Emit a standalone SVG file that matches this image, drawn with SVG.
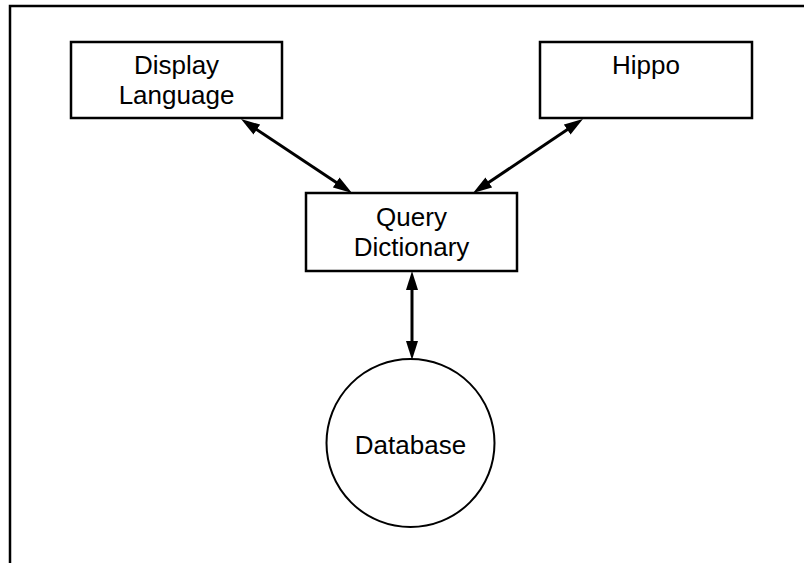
<svg xmlns="http://www.w3.org/2000/svg" width="804" height="563" viewBox="0 0 804 563">
<style>
.box{fill:#fff;stroke:#000;stroke-width:2.5}
.circ{fill:#fff;stroke:#000;stroke-width:2}
.lbl{font-family:"Liberation Sans",Arial,sans-serif;font-size:26px;fill:#000;text-anchor:middle}
.conn{stroke:#000;stroke-width:3;fill:none;marker-start:url(#ah);marker-end:url(#ah)}
.frame{stroke:#000;stroke-width:2.5;fill:none}
</style>
<defs>
<marker id="ah" markerUnits="userSpaceOnUse" markerWidth="19" markerHeight="12" viewBox="0 0 19 12" refX="7" refY="6" orient="auto-start-reverse">
<path d="M0,0 L19,6 L0,12 z" fill="#000"/>
</marker>
</defs>
<rect width="804" height="563" fill="#fff"/>
<path class="frame" d="M10,563 L10,6 L804,6"/>
<g id="connectors">
<line class="conn" x1="251" y1="125.7" x2="342" y2="186.3"/>
<line class="conn" x1="573" y1="125.7" x2="483" y2="186.3"/>
<line class="conn" x1="412" y1="283" x2="412" y2="348"/>
</g>
<g id="display-language">
<rect class="box" x="71" y="42" width="211" height="76"/>
<text class="lbl" x="176.5" y="74">Display</text>
<text class="lbl" x="176.5" y="104">Language</text>
</g>
<g id="hippo">
<rect class="box" x="540" y="42" width="212" height="76"/>
<text class="lbl" x="646" y="74">Hippo</text>
</g>
<g id="query-dictionary">
<rect class="box" x="306" y="193" width="211" height="78"/>
<text class="lbl" x="411.5" y="225.5">Query</text>
<text class="lbl" x="411.5" y="255.5">Dictionary</text>
</g>
<g id="database">
<circle class="circ" cx="410.5" cy="443" r="84"/>
<text class="lbl" x="410.5" y="454">Database</text>
</g>
</svg>
